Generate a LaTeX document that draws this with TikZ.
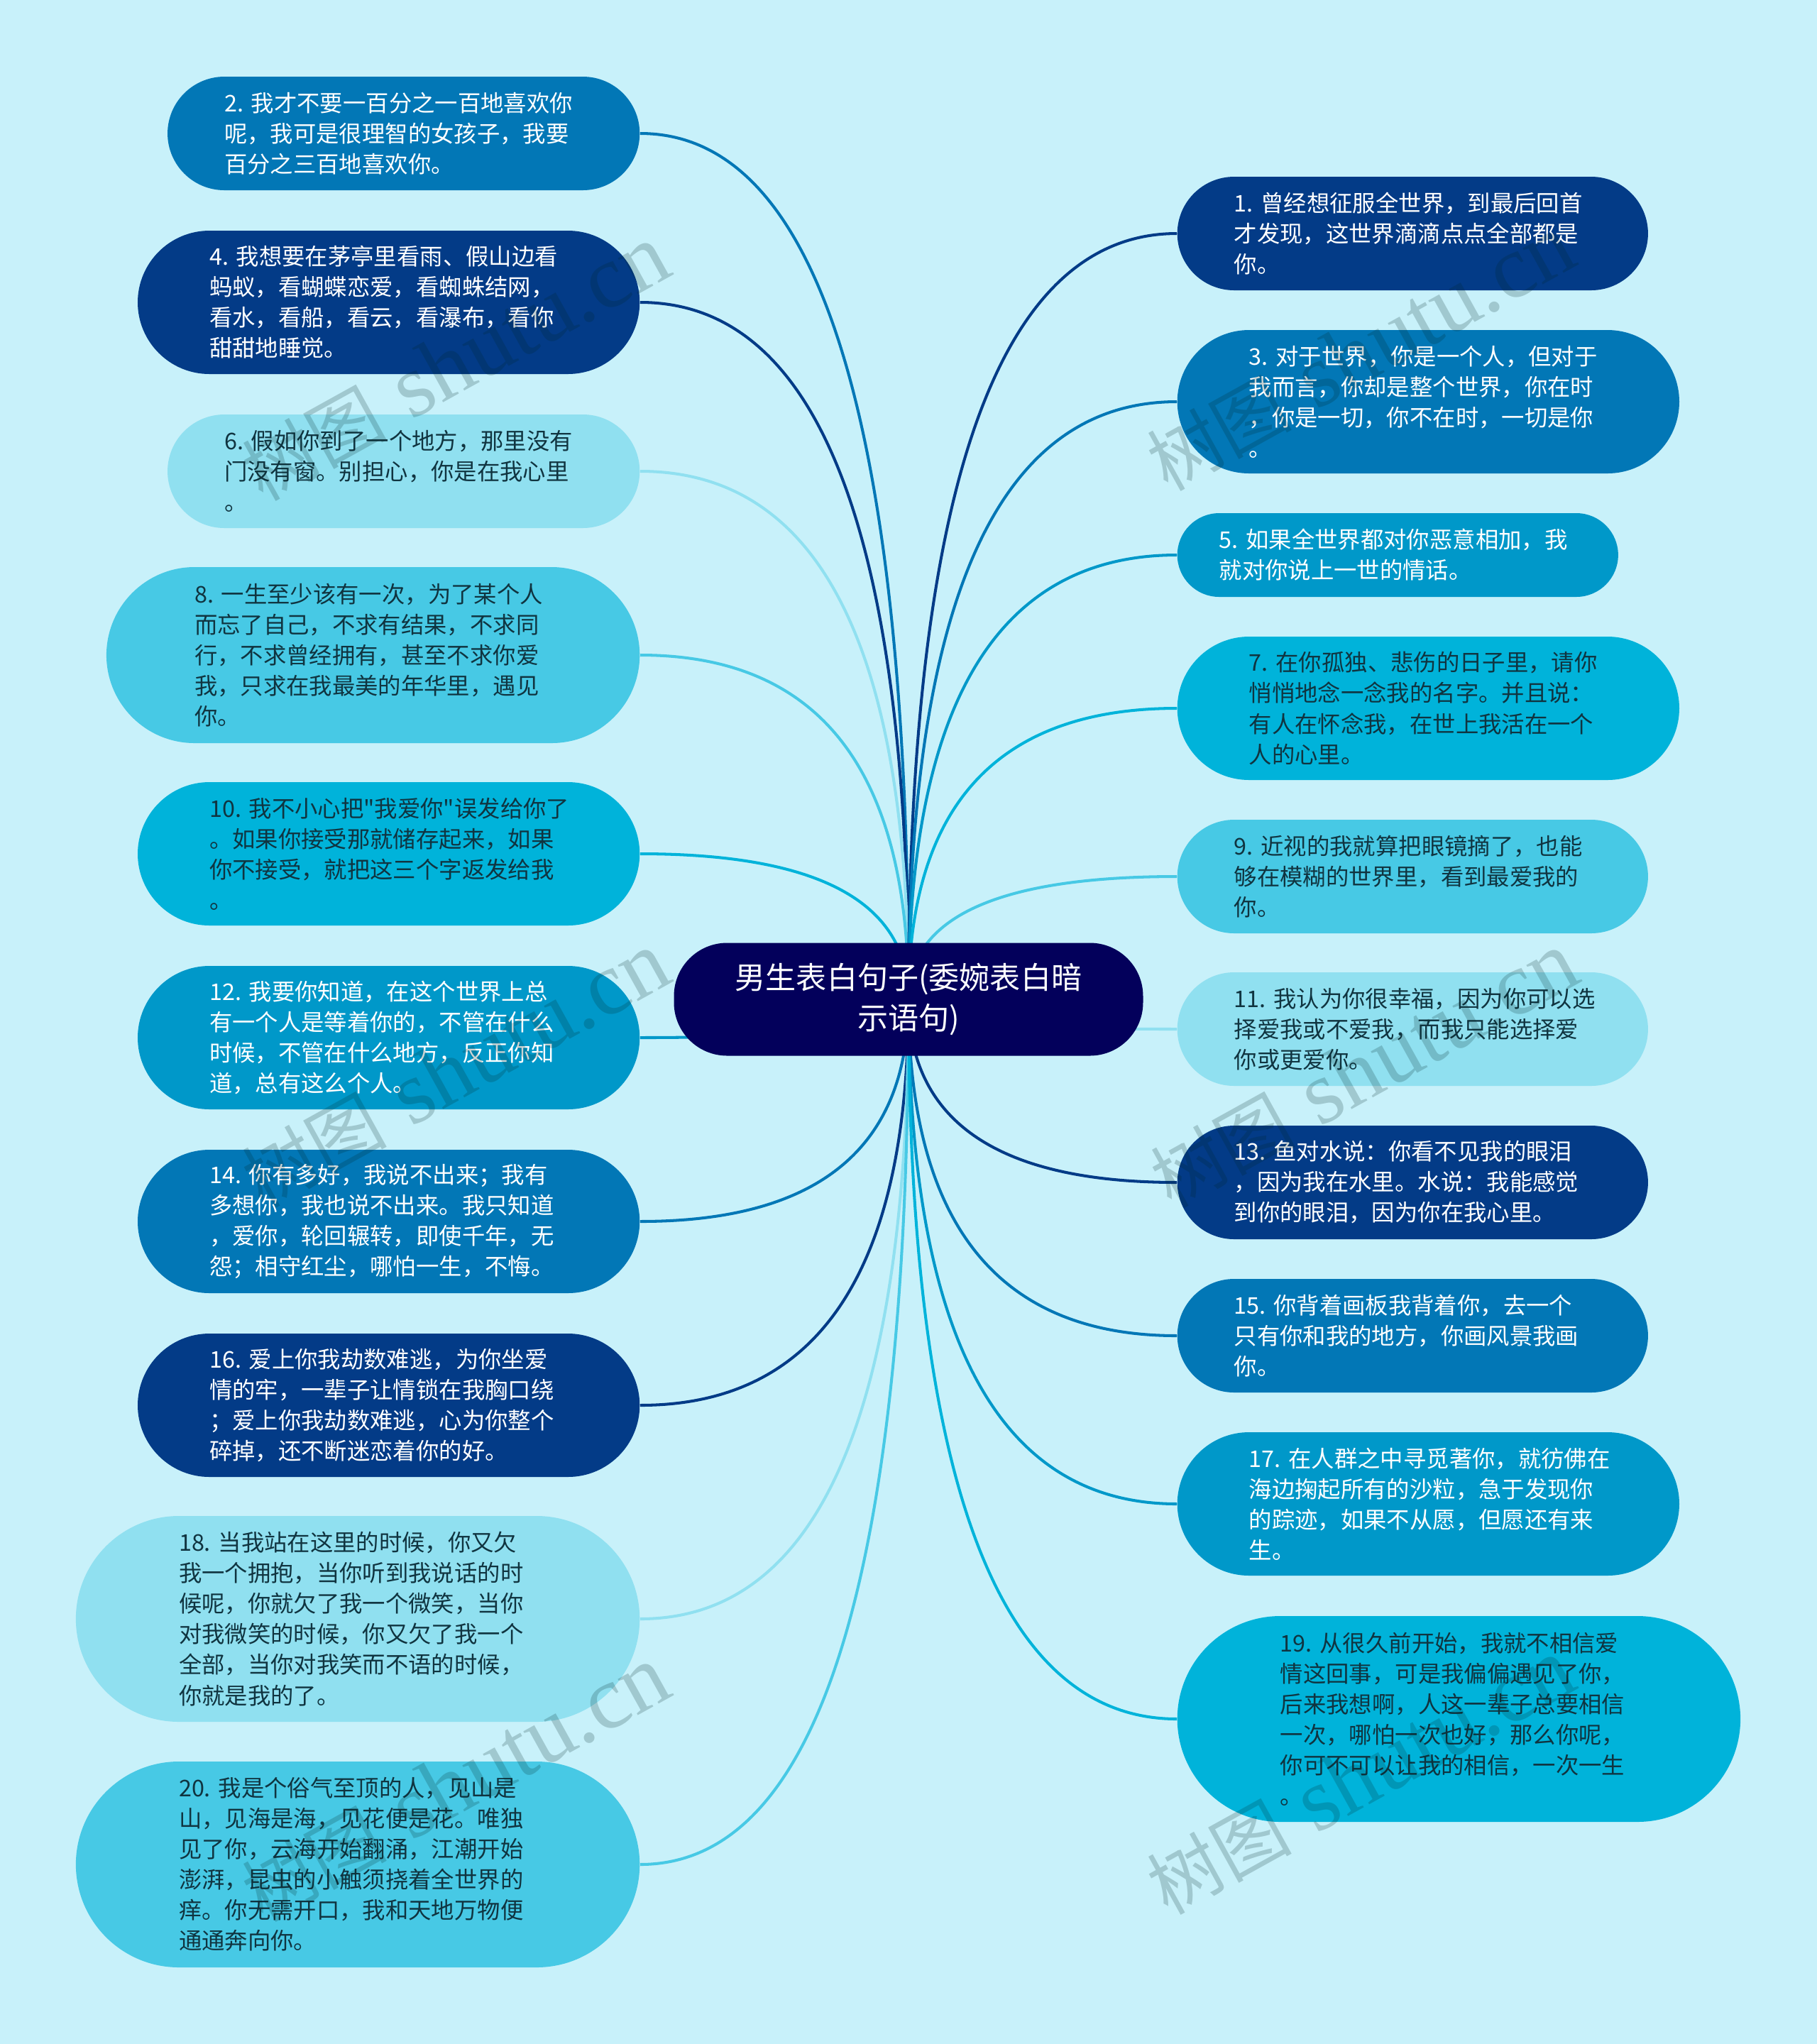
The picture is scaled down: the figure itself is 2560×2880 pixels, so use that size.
\documentclass[tikz,border=0pt]{standalone}
\usepackage{fontspec}
\newfontfamily\cjkfont[WordSpace=0.7]{Noto Sans CJK SC}
\newfontfamily\markserif{Liberation Serif}
\usetikzlibrary{calc,backgrounds}

\definecolor{bgblue}{HTML}{C8F1FA}
\definecolor{rootblue}{HTML}{03005B}
\definecolor{navyblue}{HTML}{033B87}
\definecolor{medblue}{HTML}{0277B6}
\definecolor{midblue}{HTML}{0098C9}
\definecolor{cyanblue}{HTML}{00B3DA}
\definecolor{lightblue}{HTML}{47C9E5}
\definecolor{paleblue}{HTML}{90E0F0}
\definecolor{darktext}{HTML}{103440}

\tikzset{
    pill/.style 2 args={
        minimum height=#2*0.01cm,
        inner xsep=#2*0.005cm, inner ysep=0pt,
        text width={(#1-#2)*0.01cm},
        rounded corners=#2*0.005cm,
        align=left,
        font=\cjkfont\fontsize{9.2pt}{12.24pt}\selectfont
    },
    navybox/.style={fill=navyblue,text=white},
    medbox/.style={fill=medblue,text=white},
    midbox/.style={fill=midblue,text=white},
    cyanbox/.style={fill=cyanblue,text=darktext},
    lightbox/.style={fill=lightblue,text=darktext},
    palebox/.style={fill=paleblue,text=darktext},
    wmark/.style={rotate=29,text=black!70!teal,opacity=0.2,inner sep=0pt}
}

\newcommand{\wmtext}{{\cjkfont\fontsize{29pt}{29pt}\selectfont 树图}\hspace{10pt}{\markserif\fontsize{36pt}{36pt}\selectfont shutu.cn}}

\begin{document}
\begin{tikzpicture}[x=0.01cm,y=-0.01cm]
    \useasboundingbox (0,0) rectangle (2560,2880);

    \node[fill=rootblue,text=white,minimum width=661*0.01cm,minimum height=159*0.01cm,
        rounded corners=75*0.01cm,align=center,
        font=\cjkfont\fontsize{12.25pt}{16.2pt}\selectfont] (root) at (1280,1408)
        {男生表白句子(委婉表白暗\\示语句)};

    % left side
    \node[pill={665}{160},medbox,anchor=east] (n2) at (902,188)
        {2.~我才不要一百分之一百地喜欢你\\呢，我可是很理智的女孩子，我要\\百分之三百地喜欢你。};
    \node[pill={707}{202},navybox,anchor=east] (n4) at (902,426)
        {4.~我想要在茅亭里看雨、假山边看\\蚂蚁，看蝴蝶恋爱，看蜘蛛结网，\\看水，看船，看云，看瀑布，看你\\甜甜地睡觉。};
    \node[pill={665}{160},palebox,anchor=east] (n6) at (902,664)
        {6.~假如你到了一个地方，那里没有\\门没有窗。别担心，你是在我心里\\。};
    \node[pill={751}{248},lightbox,anchor=east] (n8) at (902,923)
        {8.~一生至少该有一次，为了某个人\\而忘了自己，不求有结果，不求同\\行，不求曾经拥有，甚至不求你爱\\我，只求在我最美的年华里，遇见\\你。};
    \node[pill={707}{202},cyanbox,anchor=east] (n10) at (902,1203)
        {10.~我不小心把"我爱你"误发给你了\\。如果你接受那就储存起来，如果\\你不接受，就把这三个字返发给我\\。};
    \node[pill={707}{202},midbox,anchor=east] (n12) at (902,1462)
        {12.~我要你知道，在这个世界上总\\有一个人是等着你的，不管在什么\\时候，不管在什么地方，反正你知\\道，总有这么个人。};
    \node[pill={707}{202},medbox,anchor=east] (n14) at (902,1721)
        {14.~你有多好，我说不出来；我有\\多想你，我也说不出来。我只知道\\，爱你，轮回辗转，即使千年，无\\怨；相守红尘，哪怕一生，不悔。};
    \node[pill={707}{202},navybox,anchor=east] (n16) at (902,1980)
        {16.~爱上你我劫数难逃，为你坐爱\\情的牢，一辈子让情锁在我胸口绕\\；爱上你我劫数难逃，心为你整个\\碎掉，还不断迷恋着你的好。};
    \node[pill={794}{290},palebox,anchor=east] (n18) at (902,2281)
        {18.~当我站在这里的时候，你又欠\\我一个拥抱，当你听到我说话的时\\候呢，你就欠了我一个微笑，当你\\对我微笑的时候，你又欠了我一个\\全部，当你对我笑而不语的时候，\\你就是我的了。};
    \node[pill={794}{290},lightbox,anchor=east] (n20) at (902,2627)
        {20.~我是个俗气至顶的人，见山是\\山，见海是海，见花便是花。唯独\\见了你，云海开始翻涌，江潮开始\\澎湃，昆虫的小触须挠着全世界的\\痒。你无需开口，我和天地万物便\\通通奔向你。};

    % right side
    \node[pill={663}{160},navybox,anchor=west] (n1) at (1658,329)
        {1.~曾经想征服全世界，到最后回首\\才发现，这世界滴滴点点全部都是\\你。};
    \node[pill={707}{202},medbox,anchor=west] (n3) at (1658,566)
        {3.~对于世界，你是一个人，但对于\\我而言，你却是整个世界，你在时\\，你是一切，你不在时，一切是你\\。};
    \node[pill={621}{118},midbox,anchor=west] (n5) at (1658,782)
        {5.~如果全世界都对你恶意相加，我\\就对你说上一世的情话。};
    \node[pill={707}{202},cyanbox,anchor=west] (n7) at (1658,998)
        {7.~在你孤独、悲伤的日子里，请你\\悄悄地念一念我的名字。并且说：\\有人在怀念我，在世上我活在一个\\人的心里。};
    \node[pill={663}{160},lightbox,anchor=west] (n9) at (1658,1235)
        {9.~近视的我就算把眼镜摘了，也能\\够在模糊的世界里，看到最爱我的\\你。};
    \node[pill={663}{160},palebox,anchor=west] (n11) at (1658,1450)
        {11.~我认为你很幸福，因为你可以选\\择爱我或不爱我，而我只能选择爱\\你或更爱你。};
    \node[pill={663}{160},navybox,anchor=west] (n13) at (1658,1666)
        {13.~鱼对水说：你看不见我的眼泪\\，因为我在水里。水说：我能感觉\\到你的眼泪，因为你在我心里。};
    \node[pill={663}{160},medbox,anchor=west] (n15) at (1658,1882)
        {15.~你背着画板我背着你，去一个\\只有你和我的地方，你画风景我画\\你。};
    \node[pill={707}{202},midbox,anchor=west] (n17) at (1658,2119)
        {17.~在人群之中寻觅著你，就彷佛在\\海边掬起所有的沙粒，急于发现你\\的踪迹，如果不从愿，但愿还有来\\生。};
    \node[pill={793}{290},cyanbox,anchor=west] (n19) at (1658,2422)
        {19.~从很久前开始，我就不相信爱\\情这回事，可是我偏偏遇见了你，\\后来我想啊，人这一辈子总要相信\\一次，哪怕一次也好，那么你呢，\\你可不可以让我的相信，一次一生\\。};

    \begin{scope}[on background layer]
        \fill[bgblue] (0,0) rectangle (2560,2880);
        % connectors start behind the root
        \foreach \n/\side/\c in {n2/east/medblue,n4/east/navyblue,n6/east/paleblue,n8/east/lightblue,
            n10/east/cyanblue,n12/east/midblue,n14/east/medblue,n16/east/navyblue,n18/east/paleblue,n20/east/lightblue,
            n1/west/navyblue,n3/west/medblue,n5/west/midblue,n7/west/cyanblue,n9/west/lightblue,
            n11/west/paleblue,n13/west/navyblue,n15/west/medblue,n17/west/midblue,n19/west/cyanblue}
            \draw[\c,line width=1.15pt]
                (root.center) .. controls ($(root.center)!0.667!(root.center |- \n.\side)$)
                and ($(\n.\side)!0.667!(root.center |- \n.\side)$) .. (\n.\side);
    \end{scope}

    \node[wmark] (mark1) at (642,512) {\wmtext};
    \node[wmark] (mark2) at (1917,498) {\wmtext};
    \node[wmark] (mark3) at (642,1508) {\wmtext};
    \node[wmark] (mark4) at (1922,1508) {\wmtext};
    \node[wmark] (mark5) at (642,2514) {\wmtext};
    \node[wmark] (mark6) at (1917,2504) {\wmtext};
\end{tikzpicture}
\end{document}
